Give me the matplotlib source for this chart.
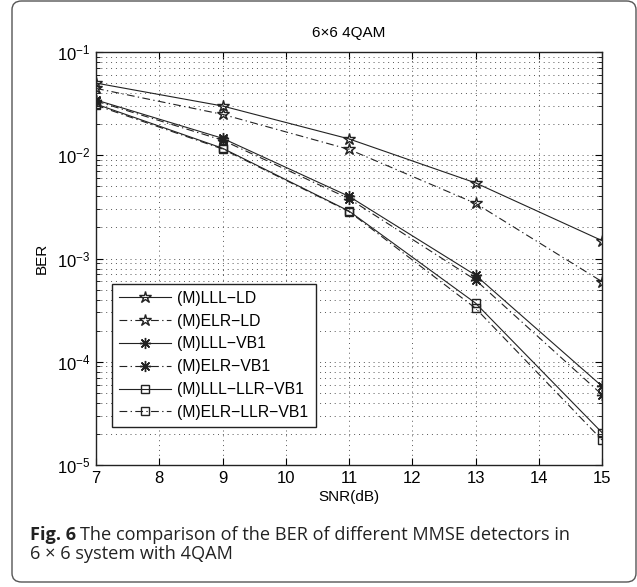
import matplotlib
matplotlib.use('Agg')
import matplotlib.pyplot as plt
from matplotlib.patches import FancyBboxPatch
from matplotlib.ticker import LogLocator, NullFormatter

# data
snr = [7, 9, 11, 13, 15]
lll_ld = [0.050, 0.030, 0.0144, 0.0054, 0.00149]
elr_ld = [0.0444, 0.0249, 0.0114, 0.00342, 0.000597]
lll_vb1 = [0.0343, 0.0146, 0.0040, 0.00069, 5.8e-5]
elr_vb1 = [0.0335, 0.0140, 0.0038, 0.00062, 4.8e-5]
lll_llr = [0.0313, 0.0117, 0.00288, 0.00037, 2.06e-5]
elr_llr = [0.0305, 0.0115, 0.00285, 0.00033, 1.75e-5]

labels = ['(M)LLL\u2212LD', '(M)ELR\u2212LD', '(M)LLL\u2212VB1',
          '(M)ELR\u2212VB1', '(M)LLL\u2212LLR\u2212VB1', '(M)ELR\u2212LLR\u2212VB1']

plt.rcParams['font.family'] = ['Liberation Sans', 'DejaVu Sans']
plt.rcParams['font.size'] = 11

fig = plt.figure(figsize=(6.37, 5.87), dpi=100)

# rounded frame round the whole figure
frame = FancyBboxPatch((12 / 637, 5 / 587), 624 / 637, 581 / 587,
                       boxstyle='round,pad=0,rounding_size=0.015',
                       transform=fig.transFigure, facecolor='none',
                       edgecolor='#555555', linewidth=1.0, zorder=-1)
fig.patches.append(frame)

ax = fig.add_axes([96 / 637, 122 / 587, 506 / 637, 413 / 587])
ax.set_facecolor('white')

dashdot = (0, (7, 3, 1.2, 3))
asterisk = (8, 2, 0)
kw = dict(color='#222222', linewidth=0.8, markerfacecolor='none')

ax.plot(snr, lll_ld, linestyle='-', marker='*', markersize=9, label=labels[0], **kw)
ax.plot(snr, elr_ld, linestyle=dashdot, marker='*', markersize=9, label=labels[1], **kw)
ax.plot(snr, lll_vb1, linestyle='-', marker=asterisk, markersize=8, label=labels[2], **kw)
ax.plot(snr, elr_vb1, linestyle=dashdot, marker=asterisk, markersize=8, label=labels[3], **kw)
ax.plot(snr, lll_llr, linestyle='-', marker='s', markersize=6, label=labels[4], **kw)
ax.plot(snr, elr_llr, linestyle=dashdot, marker='s', markersize=6, label=labels[5], **kw)

ax.set_yscale('log')
ax.set_xlim(7, 15)
ax.set_ylim(1e-5, 1e-1)
ax.set_xticks(range(7, 16))
ax.yaxis.set_major_locator(LogLocator(base=10, numticks=10))
ax.yaxis.set_minor_locator(LogLocator(base=10, subs=range(2, 10), numticks=20))
ax.yaxis.set_minor_formatter(NullFormatter())

ax.grid(True, which='major', linestyle=(0, (1, 4)), color='#555555', linewidth=0.7)
ax.grid(True, which='minor', axis='y', linestyle=(0, (1, 4)), color='#555555', linewidth=0.7)

ax.tick_params(which='both', direction='in', top=True, right=True, labelsize=12)
ax.tick_params(which='major', length=5, pad=4)
ax.tick_params(which='minor', length=3)
for s in ax.spines.values():
    s.set_linewidth(1.0)
    s.set_color('#222222')

ax.set_title('6\u00d76 4QAM', fontsize=11, pad=11)
ax.set_xlabel('SNR(dB)', fontsize=11, labelpad=3)
ax.set_ylabel('BER', fontsize=11, labelpad=6)

leg = ax.legend(loc='lower left', bbox_to_anchor=(0.032, 0.092), borderaxespad=0,
                fontsize=11.3, handlelength=3.3, borderpad=0.45, labelspacing=0.5,
                handletextpad=0.4, fancybox=False, framealpha=1)
leg.get_frame().set_edgecolor('#222222')
leg.get_frame().set_linewidth(1.0)

# caption with bold "Fig. 6"
cap_font = ['Open Sans', 'DejaVu Sans']
cap_size = 13.1
t1 = fig.text(30 / 637, 1 - 540 / 587, 'Fig. 6', fontsize=cap_size, fontweight='bold',
              family=cap_font, va='baseline', ha='left', color='#222222')
fig.canvas.draw()
bb = t1.get_window_extent(renderer=fig.canvas.get_renderer())
x_next = (bb.x1 + 4) / fig.bbox.width
fig.text(x_next, 1 - 540 / 587,
         'The comparison of the BER of different MMSE detectors in',
         fontsize=cap_size, family=cap_font, va='baseline', ha='left', color='#222222')
fig.text(30 / 637, 1 - 559 / 587, '6 \u00d7 6 system with 4QAM',
         fontsize=cap_size, family=cap_font, va='baseline', ha='left', color='#222222')

fig.savefig('out.png', dpi=100)
